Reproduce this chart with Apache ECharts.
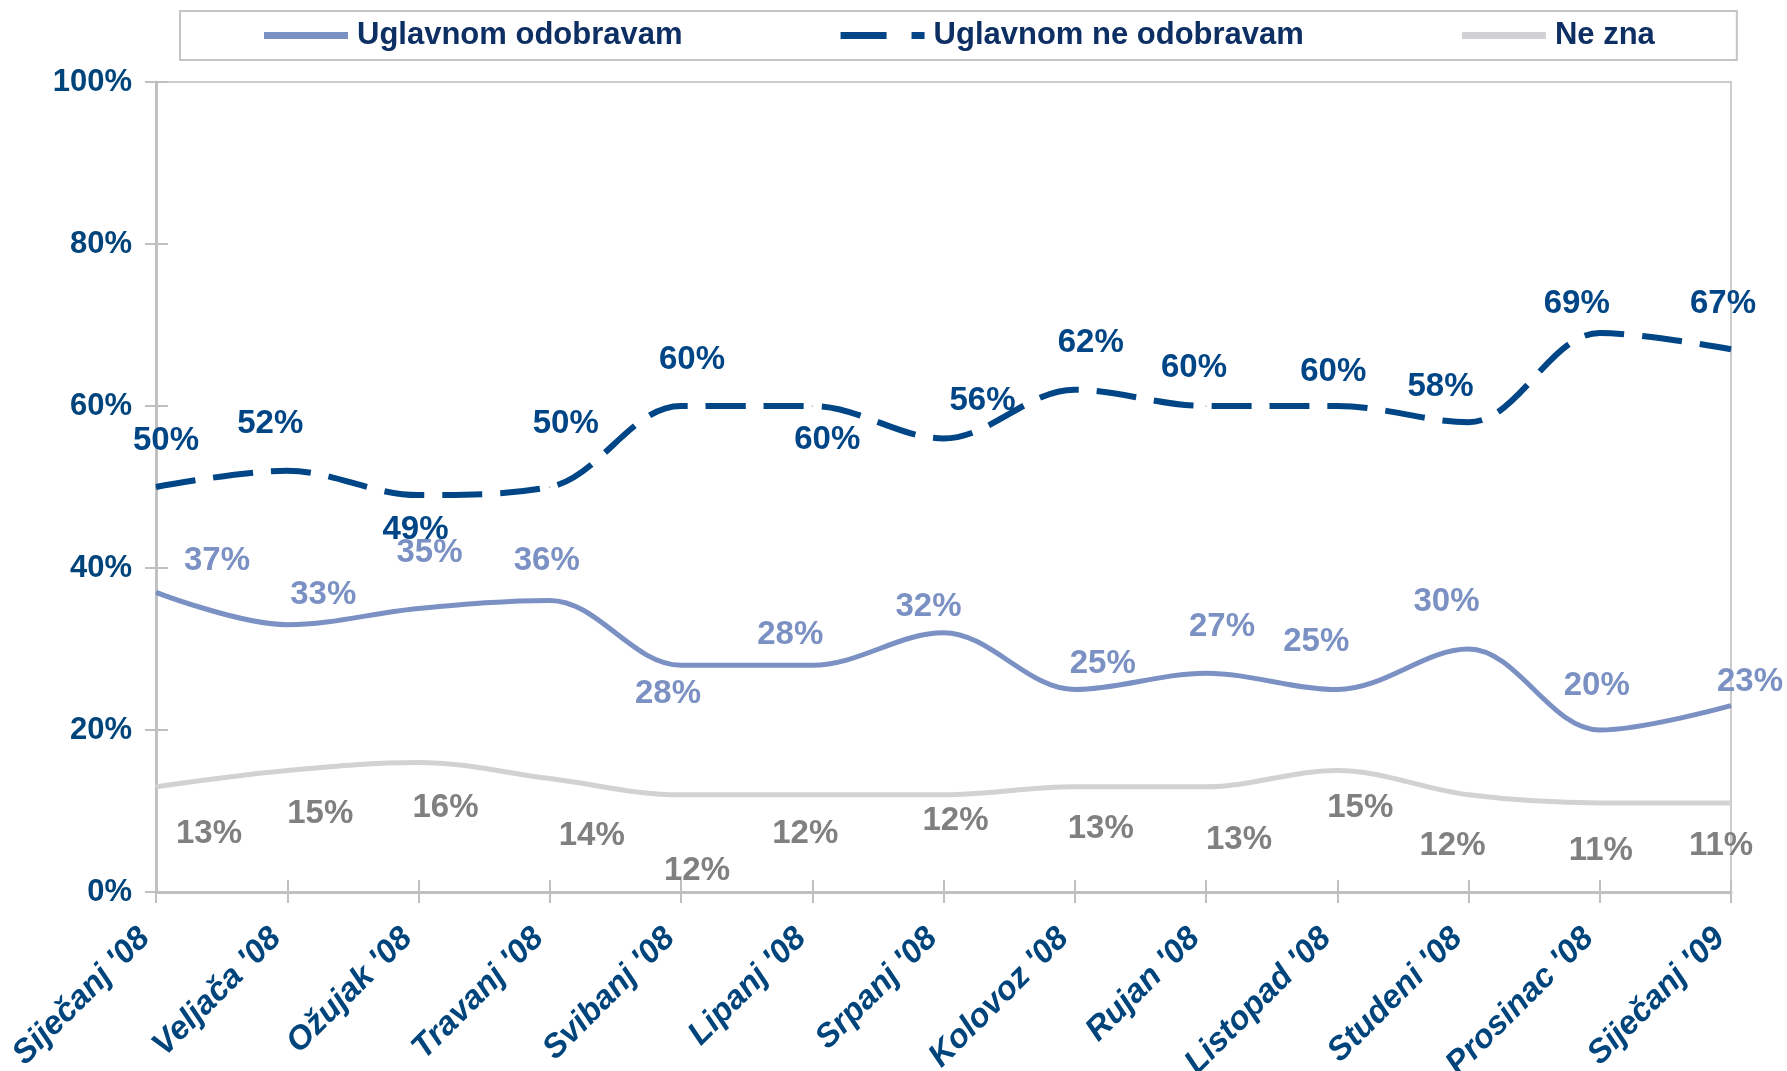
<!DOCTYPE html>
<html>
<head>
<meta charset="utf-8">
<script src="https://cdn.jsdelivr.net/npm/echarts@6/dist/echarts.min.js"></script>
<style>
	html, body { margin: 0; padding: 0; background: #fff; }
	#chart { width: 1787px; height: 1071px; }
</style>
</head>
<body>
<div id="chart"></div>
<script>
// Data
const months = ["Siječanj '08", "Veljača '08", "Ožujak '08", "Travanj '08", "Svibanj '08", "Lipanj '08",
	"Srpanj '08", "Kolovoz '08", "Rujan '08", "Listopad '08", "Studeni '08", "Prosinac '08", "Siječanj '09"];
const approve = [37, 33, 35, 36, 28, 28, 32, 25, 27, 25, 30, 20, 23];
const disapprove = [50, 52, 49, 50, 60, 60, 56, 62, 60, 60, 58, 69, 67];
const dontKnow = [13, 15, 16, 14, 12, 12, 12, 13, 13, 15, 12, 11, 11];
const yTicks = [0, 20, 40, 60, 80, 100];

// Label placement (pixels from the point)
const approveOffsets = [[61, -31], [36, -30], [11, -56], [-3, -39], [-13, 29], [-22, -30], [-15, -26],
	[28, -26], [16, -46], [-21, -48], [-22, -47], [-3, -44], [19, -24]];
const disapproveOffsets = [[10, -46], [-17, -47], [-3, 35], [16, -63], [11, -46], [15, 34], [39, -37],
	[16, -47], [-12, -38], [-4, -34], [-28, -35], [-23, -29], [-8, -45]];
const dontKnowOffsets = [[53, 47], [33, 43], [27, 46], [42, 57], [16, 76], [-7, 39], [12, 26],
	[26, 42], [33, 53], [23, 37], [-16, 51], [1, 48], [-10, 43]];

const navy = '#00447c';
const font = 'Liberation Sans, Arial, sans-serif';

const withOffsets = (values, offsets) => values.map((v, i) => ({
	value: v,
	label: { offset: offsets[i] }
}));

const labelStyle = (color) => ({
	show: true,
	position: 'inside',
	formatter: '{c}%',
	color: color,
	fontFamily: font,
	fontWeight: 'bold',
	fontSize: 33
});

const chart = echarts.init(document.getElementById('chart'));

chart.setOption({
	animation: false,
	backgroundColor: '#fff',
	legend: {
		left: 180,
		top: 11,
		padding: [9, 82, 9, 84],
		borderColor: '#c4c4c4',
		borderWidth: 2,
		itemWidth: 84,
		itemHeight: 7,
		itemGap: 158,
		textStyle: {
			color: '#0d2f63',
			fontFamily: font,
			fontWeight: 'bold',
			fontSize: 31,
			lineHeight: 30,
			padding: [0, 0, 0, 4]
		},
		data: [
			{ name: 'Uglavnom odobravam', icon: 'path://M0,0H84V7H0Z' },
			{ name: 'Uglavnom ne odobravam', icon: 'path://M0,0H46V7H0Z M71,0H84V7H71Z' },
			{ name: 'Ne zna', icon: 'path://M0,0H84V7H0Z' }
		]
	},
	grid: {
		left: 156,
		right: 56,
		top: 82,
		bottom: 179,
		outerBoundsMode: 'none',
		show: true,
		borderColor: '#cccccc',
		borderWidth: 2
	},
	xAxis: [{
		type: 'category',
		data: months,
		boundaryGap: false,
		axisLine: { lineStyle: { color: '#c0c0c0', width: 3 } },
		axisTick: { length: 11, lineStyle: { color: '#c0c0c0', width: 2 } },
		axisLabel: {
			rotate: 45,
			margin: 30,
			padding: [0, 16, 0, 0],
			color: navy,
			fontFamily: font,
			fontWeight: 'bold',
			fontStyle: 'italic',
			fontSize: 33
		}
	}, {
		type: 'category',
		data: months,
		boundaryGap: false,
		position: 'bottom',
		axisLine: { show: false },
		axisTick: { inside: true, length: 12, lineStyle: { color: '#c0c0c0', width: 2 } },
		axisLabel: { show: false }
	}],
	yAxis: [{
		type: 'value',
		min: yTicks[0],
		max: yTicks[yTicks.length - 1],
		interval: 20,
		splitLine: { show: false },
		axisLine: { show: true, lineStyle: { color: '#c0c0c0', width: 3 } },
		axisTick: { show: true, length: 11, lineStyle: { color: '#c0c0c0', width: 2 } },
		axisLabel: {
			margin: 24,
			formatter: '{value}%',
			color: navy,
			fontFamily: font,
			fontWeight: 'bold',
			fontSize: 31
		}
	}, {
		type: 'value',
		position: 'left',
		min: yTicks[0],
		max: yTicks[yTicks.length - 1],
		interval: 20,
		splitLine: { show: false },
		axisLine: { show: false },
		axisTick: { show: true, inside: true, length: 12, lineStyle: { color: '#c0c0c0', width: 2 } },
		axisLabel: { show: false }
	}],
	series: [{
		name: 'Uglavnom odobravam',
		type: 'line',
		smooth: 0.35,
		symbol: 'circle',
		symbolSize: 1,
		itemStyle: { color: '#7b91c3' },
		lineStyle: { color: '#7b91c3', width: 5 },
		label: labelStyle('#7b91c3'),
		data: withOffsets(approve, approveOffsets)
	}, {
		name: 'Uglavnom ne odobravam',
		type: 'line',
		smooth: 0.35,
		symbol: 'circle',
		symbolSize: 1,
		itemStyle: { color: '#004585' },
		lineStyle: { color: '#004585', width: 6, type: [40, 18] },
		label: labelStyle('#004585'),
		data: withOffsets(disapprove, disapproveOffsets)
	}, {
		name: 'Ne zna',
		type: 'line',
		smooth: 0.35,
		symbol: 'circle',
		symbolSize: 1,
		itemStyle: { color: '#d2d2d4' },
		lineStyle: { color: '#d2d2d4', width: 5 },
		label: labelStyle('#808080'),
		data: withOffsets(dontKnow, dontKnowOffsets)
	}]
});
</script>
</body>
</html>
